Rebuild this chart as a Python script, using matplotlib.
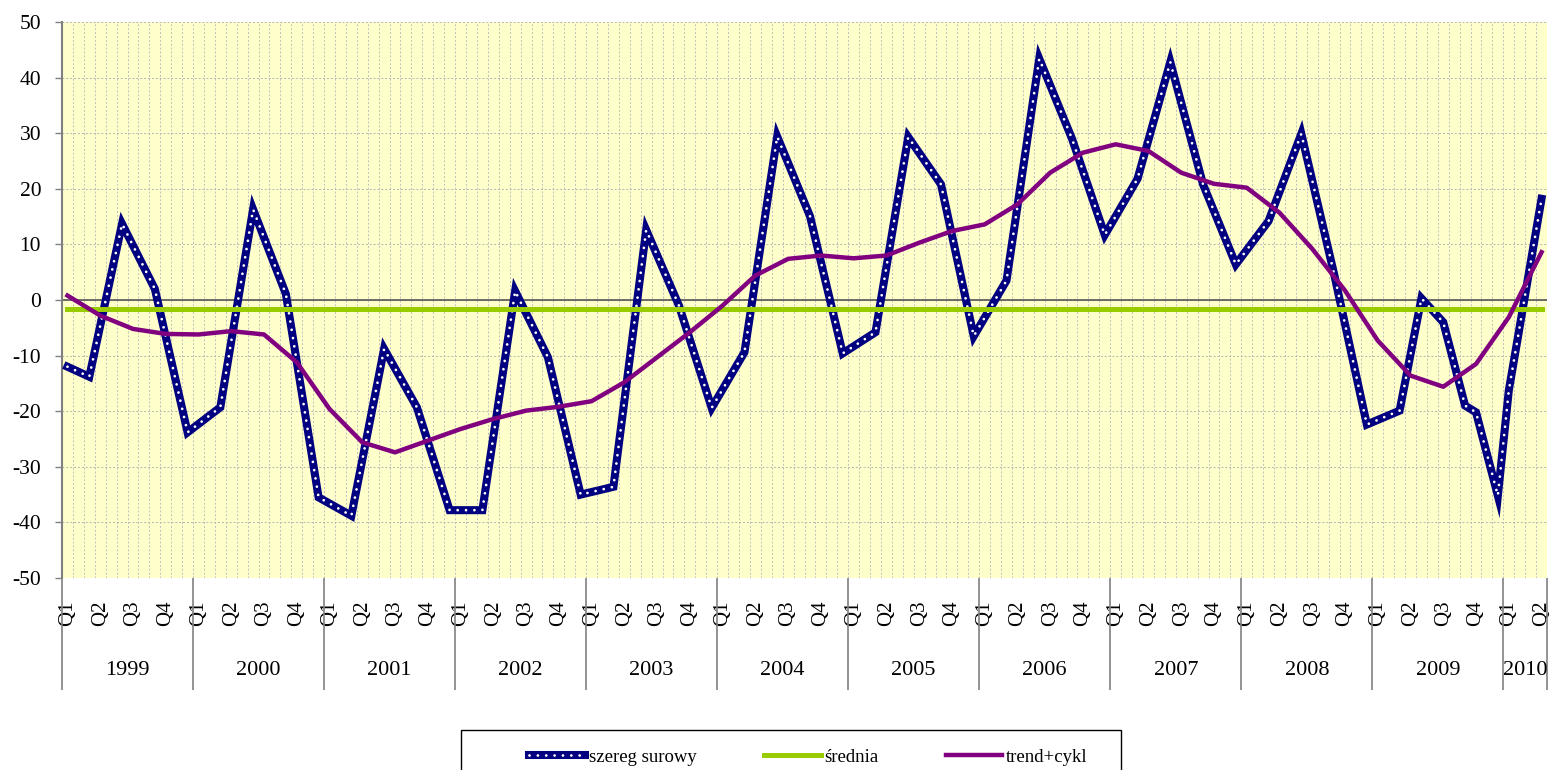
import numpy as np
import matplotlib
matplotlib.use('Agg')
import matplotlib.pyplot as plt
from matplotlib.patches import Rectangle

plt.rcParams['font.family'] = ['Liberation Serif', 'DejaVu Serif']
plt.rcParams['axes.unicode_minus'] = False

# monthly category axis: 1999-01 .. 2010-04 (136 months)
years = list(range(1999, 2011))
n_months = 136
quarter_labels = ['Q1', 'Q2', 'Q3', 'Q4']

# raw series (month index, value)
raw_month = [0, 2, 5, 8, 11, 14, 17, 20, 23, 26, 29, 32, 35, 38, 41, 44, 47, 50,
             53, 56, 59, 62, 65, 68, 71, 74, 77, 80, 83, 86, 89, 92, 95, 98, 101,
             104, 107, 110, 113, 116, 119, 122, 124, 126, 128, 129, 131, 132, 135]
raw_vals = [-12.0, -13.8, 13.7, 2.0, -23.8, -19.3, 16.3, 1.1, -35.5, -38.8, -8.8,
            -19.3, -37.8, -37.8, 1.6, -10.3, -35.0, -33.6, 12.6, -1.0, -19.4, -9.4,
            29.4, 15.1, -9.6, -5.8, 29.3, 20.8, -6.5, 3.5, 43.4, 29.0, 11.7, 21.8,
            42.8, 20.8, 6.4, 14.2, 29.9, 4.7, -22.4, -19.9, 0.3, -4.0, -19.0, -20.2,
            -35.2, -16.3, 18.2]

# trend+cycle (one value per quarter)
trend_month = list(range(0, 136, 3))
trend_vals = [0.8, -2.8, -5.2, -6.1, -6.2, -5.6, -6.2, -11.2, -19.6, -25.6, -27.4,
              -25.3, -23.2, -21.4, -19.9, -19.2, -18.2, -14.8, -10.3, -5.8, -1.0,
              4.4, 7.4, 8.0, 7.5, 8.0, 10.3, 12.4, 13.6, 17.2, 22.9, 26.5, 28.0,
              26.8, 22.9, 20.9, 20.2, 15.7, 9.2, 1.7, -7.3, -13.6, -15.6, -11.5,
              -3.1, 8.6]

mean_value = -1.7

fig = plt.figure(figsize=(15.53, 7.70), dpi=100)
ax = fig.add_axes([62 / 1553, 192 / 770, 1485 / 1553, 556 / 770])
ax.set_facecolor('#FFFFCC')

ax.set_xlim(-0.5, n_months - 0.5)
ax.set_ylim(-50, 50)

# grid
ax.set_yticks(range(-50, 51, 10))
ax.set_xticks(np.arange(-0.5, n_months, 1), minor=True)
ax.xaxis.grid(True, which='minor', color='#BEBEBE', linestyle=(0, (2, 2)), lw=0.7)
ax.yaxis.grid(True, which='major', color='#B4B4B4', linestyle=(0, (2, 2)), lw=0.7)
ax.set_axisbelow(True)

ax.axhline(0, color='#555555', lw=1.2, zorder=2)

# series
l1, = ax.plot(raw_month, raw_vals, color='#000080', lw=5.8, solid_joinstyle='miter', zorder=3)
l1b, = ax.plot(raw_month, raw_vals, color='white', lw=2.0, linestyle=(0, (0.01, 3.0)),
               dash_capstyle='round', zorder=3)
l2, = ax.plot([0, n_months - 1], [mean_value, mean_value], color='#99CC00', lw=3.6, zorder=4)
l3, = ax.plot(trend_month, trend_vals, color='#800080', lw=3.2, zorder=5)

# axes styling
for s in ['top', 'right', 'bottom']:
    ax.spines[s].set_visible(False)
ax.spines['left'].set_color('#808080')
ax.spines['left'].set_linewidth(1.5)
ax.tick_params(axis='y', length=5, width=1, color='#808080', pad=10, labelsize=15.5)

xt = list(range(0, n_months, 3))
ax.set_xticks(xt)
ax.set_xticklabels([quarter_labels[(m // 3) % 4] for m in xt], rotation=90, fontsize=15)
ax.tick_params(axis='x', which='both', length=0, pad=16)

# year separators and labels
bounds = [12 * k - 0.5 for k in range(len(years))] + [n_months - 0.5]
ax.vlines(bounds, -0.2014, 0, transform=ax.get_xaxis_transform(), clip_on=False,
          color='#808080', lw=1.2)
for k, yr in enumerate(years):
    c = (bounds[k] + bounds[k + 1]) / 2
    ax.text(c, -0.1655, str(yr), transform=ax.get_xaxis_transform(),
            ha='center', va='center', fontsize=16)

# legend
fig.legend([(l1, l1b), l2, l3], ['szereg surowy', 'średnia', 'trend+cykl'],
           loc='center left', bbox_to_anchor=(529 / 1553, 1 - 757 / 770), ncol=3,
           frameon=False, fontsize=13.5, handlelength=3.0, handletextpad=0.2,
           columnspacing=3.6, borderpad=0, borderaxespad=0)
fig.add_artist(Rectangle((461 / 1553, -0.05), (1121 - 461) / 1553, 0.05 + 40 / 770,
                         transform=fig.transFigure, fill=False, edgecolor='black', lw=1))

fig.savefig('out.png', dpi=100)
